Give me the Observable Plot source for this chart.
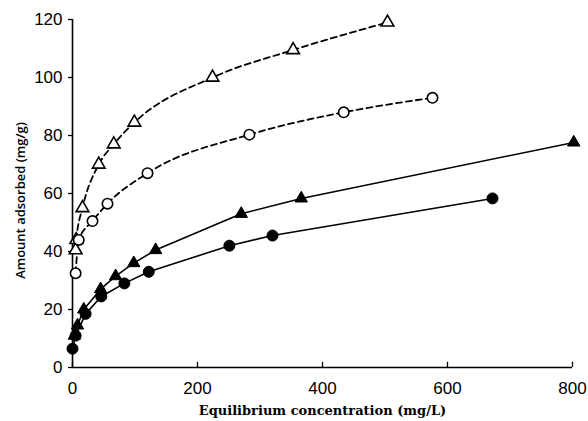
<!DOCTYPE html>
<html>
<head>
<meta charset="utf-8">
<script src="https://cdn.jsdelivr.net/npm/d3@7"></script>
<script src="https://cdn.jsdelivr.net/npm/@observablehq/plot@0.6"></script>
<style>
  html, body { margin: 0; padding: 0; background: #fff; }
  svg { font-family: "Liberation Sans", Arial, sans-serif; }
</style>
</head>
<body>
<div id="chart"></div>
<script>
// Open triangles (dashed)
const openTriX = [5, 6, 16, 42, 66, 99, 224, 353, 504];
const openTriY = [40.5, 44, 55, 70, 77, 84.5, 100, 109.5, 119];
// Open circles (dashed)
const openCircX = [5, 10, 32, 56, 120, 283, 434, 576];
const openCircY = [32.5, 44, 50.5, 56.5, 67, 80.3, 88, 93];
// Filled triangles (solid)
const fillTriX = [3, 8, 18, 45, 69, 98, 133, 270, 366, 802];
const fillTriY = [11, 14.5, 20, 27, 31.5, 36, 40.5, 53, 58.3, 77.6];
// Filled circles (solid)
const fillCircX = [0, 5, 21, 46, 83, 122, 251, 320, 672];
const fillCircY = [6.5, 11, 18.5, 24.5, 29, 33, 42, 45.5, 58.3];

const xTicks = [0, 200, 400, 600, 800];
const yTicks = [0, 20, 40, 60, 80, 100, 120];
const xLabel = "Equilibrium concentration (mg/L)";
const yLabel = "Amount adsorbed (mg/g)";

const toRows = (xs, ys) => xs.map((x, i) => ({x, y: ys[i]}));
const oT = toRows(openTriX, openTriY);
const oC = toRows(openCircX, openCircY);
const fT = toRows(fillTriX, fillTriY);
const fC = toRows(fillCircX, fillCircY);

const chart = Plot.plot({
  width: 588,
  height: 421,
  marginLeft: 72,
  marginRight: 16,
  marginTop: 19,
  marginBottom: 54,
  x: {domain: [0, 800]},
  y: {domain: [0, 120]},
  style: {fontSize: "17px", color: "#000", background: "#fff"},
  marks: [
    Plot.ruleX([0], {stroke: "#000", strokeWidth: 1.6}),
    Plot.ruleY([0], {stroke: "#000", strokeWidth: 1.6}),
    Plot.ruleX(xTicks, {y1: 0, y2: 1.8, stroke: "#000", strokeWidth: 1.3}),
    Plot.axisX({ticks: xTicks, tickSize: 0, tickPadding: 14, label: null, fontSize: 17, fontFamily: "Liberation Sans"}),
    Plot.axisY({ticks: yTicks, tickSize: 4, tickPadding: 6, label: null, fontSize: 17, fontFamily: "Liberation Sans", strokeWidth: 1.3}),
    Plot.text([xLabel], {frameAnchor: "bottom", textAnchor: "middle", lineAnchor: "middle", dy: 43, text: d => d, fontSize: 13, fontWeight: "bold", fontFamily: "DejaVu Serif", letterSpacing: "0.8px"}),
    Plot.text([yLabel], {frameAnchor: "left", textAnchor: "middle", lineAnchor: "middle", dx: -52, dy: 7, rotate: -90, text: d => d, fontSize: 13, fontWeight: 600, fontFamily: "Open Sans", letterSpacing: "0.3px"}),
    Plot.line(oT, {x: "x", y: "y", curve: "monotone-x", stroke: "#000", strokeWidth: 1.8, strokeDasharray: "6,4"}),
    Plot.line(oC, {x: "x", y: "y", curve: "monotone-x", stroke: "#000", strokeWidth: 1.8, strokeDasharray: "6,4"}),
    Plot.line(fT, {x: "x", y: "y", stroke: "#000", strokeWidth: 1.6}),
    Plot.line(fC, {x: "x", y: "y", stroke: "#000", strokeWidth: 1.6}),
    Plot.dot(oT, {x: "x", y: "y", symbol: "triangle", r: 4.7, fill: "#fff", stroke: "#000", strokeWidth: 1.6}),
    Plot.dot(oC, {x: "x", y: "y", symbol: "circle", r: 5.2, fill: "#fff", stroke: "#000", strokeWidth: 1.6}),
    Plot.dot(fT, {x: "x", y: "y", symbol: "triangle", r: 4.6, fill: "#000", stroke: "#000", strokeWidth: 1}),
    Plot.dot(fC, {x: "x", y: "y", symbol: "circle", r: 5.5, fill: "#000", stroke: "#000", strokeWidth: 1})
  ]
});
document.getElementById("chart").appendChild(chart);
</script>
</body>
</html>
